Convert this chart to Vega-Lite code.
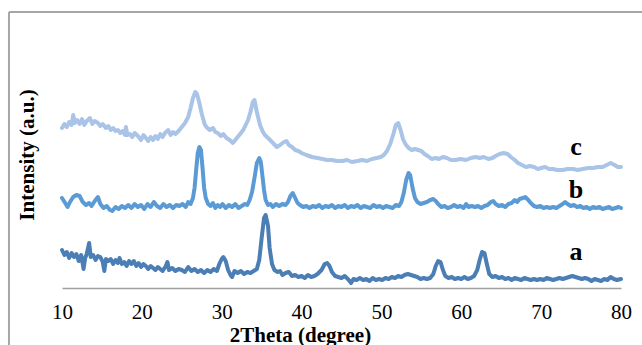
{
  "$schema": "https://vega.github.io/schema/vega-lite/v6.json",
  "width": 559,
  "height": 274,
  "autosize": {"type": "none"},
  "padding": {"left": 62, "top": 14, "right": 21, "bottom": 57},
  "background": "white",
  "config": {"view": {"stroke": null}, "font": "Liberation Serif"},
  "data": {"values": [
{"s":"a","x":10,"y":38},{"s":"a","x":10.3,"y":33},{"s":"a","x":10.6,"y":36},{"s":"a","x":10.9,"y":30},{"s":"a","x":11.2,"y":35},{"s":"a","x":11.5,"y":31},{"s":"a","x":11.8,"y":34},{"s":"a","x":12.1,"y":27},{"s":"a","x":12.4,"y":33},{"s":"a","x":12.7,"y":19},{"s":"a","x":12.9,"y":30},{"s":"a","x":13.1,"y":34},{"s":"a","x":13.4,"y":45},{"s":"a","x":13.6,"y":31},{"s":"a","x":13.9,"y":33},{"s":"a","x":14.2,"y":28},{"s":"a","x":14.5,"y":32},{"s":"a","x":14.8,"y":31},{"s":"a","x":15.1,"y":26},{"s":"a","x":15.3,"y":17},{"s":"a","x":15.5,"y":29},{"s":"a","x":15.8,"y":27},{"s":"a","x":16.1,"y":29},{"s":"a","x":16.4,"y":24},{"s":"a","x":16.7,"y":28},{"s":"a","x":17,"y":25},{"s":"a","x":17.2,"y":30},{"s":"a","x":17.5,"y":24},{"s":"a","x":17.8,"y":26},{"s":"a","x":18.1,"y":22},{"s":"a","x":18.4,"y":27},{"s":"a","x":18.7,"y":24},{"s":"a","x":19,"y":27},{"s":"a","x":19.3,"y":22},{"s":"a","x":19.6,"y":25},{"s":"a","x":19.9,"y":21},{"s":"a","x":20.2,"y":24},{"s":"a","x":20.5,"y":22},{"s":"a","x":20.8,"y":19},{"s":"a","x":21.1,"y":22},{"s":"a","x":21.4,"y":20},{"s":"a","x":21.7,"y":18},{"s":"a","x":22,"y":21},{"s":"a","x":22.3,"y":19},{"s":"a","x":22.6,"y":17},{"s":"a","x":23,"y":22},{"s":"a","x":23.2,"y":26},{"s":"a","x":23.4,"y":18},{"s":"a","x":23.8,"y":20},{"s":"a","x":24.2,"y":17},{"s":"a","x":24.6,"y":19},{"s":"a","x":25,"y":18},{"s":"a","x":25.4,"y":16},{"s":"a","x":25.8,"y":21},{"s":"a","x":26.2,"y":17},{"s":"a","x":26.6,"y":19},{"s":"a","x":27,"y":16},{"s":"a","x":27.4,"y":18},{"s":"a","x":27.8,"y":15},{"s":"a","x":28.2,"y":18},{"s":"a","x":28.6,"y":16},{"s":"a","x":29,"y":19},{"s":"a","x":29.4,"y":17},{"s":"a","x":29.7,"y":24},{"s":"a","x":30,"y":29},{"s":"a","x":30.2,"y":31},{"s":"a","x":30.5,"y":27},{"s":"a","x":30.8,"y":18},{"s":"a","x":31.1,"y":13},{"s":"a","x":31.3,"y":11},{"s":"a","x":31.6,"y":17},{"s":"a","x":32,"y":15},{"s":"a","x":32.4,"y":17},{"s":"a","x":32.8,"y":14},{"s":"a","x":33.2,"y":16},{"s":"a","x":33.6,"y":15},{"s":"a","x":34,"y":17},{"s":"a","x":34.4,"y":19},{"s":"a","x":34.7,"y":28},{"s":"a","x":35,"y":50},{"s":"a","x":35.3,"y":70},{"s":"a","x":35.5,"y":73},{"s":"a","x":35.8,"y":62},{"s":"a","x":36,"y":40},{"s":"a","x":36.3,"y":24},{"s":"a","x":36.6,"y":18},{"s":"a","x":37,"y":16},{"s":"a","x":37.3,"y":17},{"s":"a","x":37.6,"y":13},{"s":"a","x":38,"y":15},{"s":"a","x":38.4,"y":16},{"s":"a","x":38.8,"y":12},{"s":"a","x":39.2,"y":13},{"s":"a","x":39.6,"y":11},{"s":"a","x":40,"y":12},{"s":"a","x":40.4,"y":10},{"s":"a","x":40.8,"y":13},{"s":"a","x":41.2,"y":11},{"s":"a","x":41.6,"y":12},{"s":"a","x":42,"y":14},{"s":"a","x":42.5,"y":18},{"s":"a","x":42.9,"y":24},{"s":"a","x":43.2,"y":25},{"s":"a","x":43.5,"y":22},{"s":"a","x":43.8,"y":16},{"s":"a","x":44.2,"y":12},{"s":"a","x":44.6,"y":11},{"s":"a","x":45,"y":10},{"s":"a","x":45.4,"y":12},{"s":"a","x":45.8,"y":9},{"s":"a","x":46.2,"y":5},{"s":"a","x":46.5,"y":9},{"s":"a","x":46.9,"y":8},{"s":"a","x":47.3,"y":10},{"s":"a","x":47.7,"y":8},{"s":"a","x":48.1,"y":9},{"s":"a","x":48.5,"y":7},{"s":"a","x":48.9,"y":10},{"s":"a","x":49.3,"y":8},{"s":"a","x":49.7,"y":9},{"s":"a","x":50.1,"y":8},{"s":"a","x":50.5,"y":10},{"s":"a","x":50.9,"y":9},{"s":"a","x":51.3,"y":11},{"s":"a","x":51.7,"y":10},{"s":"a","x":52.1,"y":12},{"s":"a","x":52.5,"y":11},{"s":"a","x":52.9,"y":13},{"s":"a","x":53.3,"y":14},{"s":"a","x":53.7,"y":13},{"s":"a","x":54.1,"y":12},{"s":"a","x":54.5,"y":11},{"s":"a","x":54.9,"y":9},{"s":"a","x":55.3,"y":10},{"s":"a","x":55.7,"y":9},{"s":"a","x":56.1,"y":10},{"s":"a","x":56.5,"y":14},{"s":"a","x":56.8,"y":22},{"s":"a","x":57.1,"y":27},{"s":"a","x":57.4,"y":26},{"s":"a","x":57.7,"y":18},{"s":"a","x":58,"y":12},{"s":"a","x":58.4,"y":10},{"s":"a","x":58.8,"y":11},{"s":"a","x":59.2,"y":9},{"s":"a","x":59.6,"y":10},{"s":"a","x":60,"y":9},{"s":"a","x":60.4,"y":11},{"s":"a","x":60.8,"y":9},{"s":"a","x":61.2,"y":10},{"s":"a","x":61.6,"y":12},{"s":"a","x":62,"y":18},{"s":"a","x":62.3,"y":28},{"s":"a","x":62.6,"y":36},{"s":"a","x":62.9,"y":35},{"s":"a","x":63.2,"y":24},{"s":"a","x":63.5,"y":14},{"s":"a","x":63.9,"y":11},{"s":"a","x":64.3,"y":12},{"s":"a","x":64.7,"y":10},{"s":"a","x":65.1,"y":11},{"s":"a","x":65.5,"y":9},{"s":"a","x":65.9,"y":10},{"s":"a","x":66.3,"y":8},{"s":"a","x":66.7,"y":10},{"s":"a","x":67.1,"y":9},{"s":"a","x":67.5,"y":8},{"s":"a","x":67.9,"y":10},{"s":"a","x":68.3,"y":9},{"s":"a","x":68.7,"y":8},{"s":"a","x":69.1,"y":9},{"s":"a","x":69.5,"y":8},{"s":"a","x":69.9,"y":9},{"s":"a","x":70.3,"y":8},{"s":"a","x":70.7,"y":10},{"s":"a","x":71.1,"y":9},{"s":"a","x":71.5,"y":8},{"s":"a","x":71.9,"y":9},{"s":"a","x":72.3,"y":10},{"s":"a","x":72.7,"y":9},{"s":"a","x":73.1,"y":10},{"s":"a","x":73.5,"y":11},{"s":"a","x":73.9,"y":12},{"s":"a","x":74.3,"y":11},{"s":"a","x":74.7,"y":10},{"s":"a","x":75.1,"y":9},{"s":"a","x":75.5,"y":10},{"s":"a","x":75.9,"y":9},{"s":"a","x":76.3,"y":7},{"s":"a","x":76.7,"y":9},{"s":"a","x":77.1,"y":8},{"s":"a","x":77.5,"y":7},{"s":"a","x":77.9,"y":9},{"s":"a","x":78.3,"y":8},{"s":"a","x":78.7,"y":11},{"s":"a","x":79.1,"y":9},{"s":"a","x":79.5,"y":8},{"s":"a","x":80,"y":9},
{"s":"b","x":10,"y":90},{"s":"b","x":10.4,"y":85},{"s":"b","x":10.7,"y":81},{"s":"b","x":11,"y":86},{"s":"b","x":11.4,"y":91},{"s":"b","x":11.8,"y":93},{"s":"b","x":12.2,"y":92},{"s":"b","x":12.6,"y":86},{"s":"b","x":13,"y":83},{"s":"b","x":13.4,"y":85},{"s":"b","x":13.7,"y":82},{"s":"b","x":14.1,"y":87},{"s":"b","x":14.5,"y":91},{"s":"b","x":14.8,"y":84},{"s":"b","x":15.2,"y":80},{"s":"b","x":15.6,"y":82},{"s":"b","x":16,"y":78},{"s":"b","x":16.3,"y":77},{"s":"b","x":16.7,"y":81},{"s":"b","x":17.1,"y":79},{"s":"b","x":17.5,"y":82},{"s":"b","x":17.9,"y":80},{"s":"b","x":18.3,"y":83},{"s":"b","x":18.7,"y":80},{"s":"b","x":19.1,"y":84},{"s":"b","x":19.5,"y":81},{"s":"b","x":19.9,"y":83},{"s":"b","x":20.3,"y":79},{"s":"b","x":20.7,"y":84},{"s":"b","x":21.1,"y":81},{"s":"b","x":21.5,"y":86},{"s":"b","x":21.9,"y":82},{"s":"b","x":22.3,"y":80},{"s":"b","x":22.7,"y":84},{"s":"b","x":23.1,"y":81},{"s":"b","x":23.5,"y":83},{"s":"b","x":23.9,"y":80},{"s":"b","x":24.3,"y":83},{"s":"b","x":24.7,"y":82},{"s":"b","x":25.1,"y":84},{"s":"b","x":25.5,"y":81},{"s":"b","x":25.8,"y":86},{"s":"b","x":26.1,"y":84},{"s":"b","x":26.4,"y":90},{"s":"b","x":26.6,"y":100},{"s":"b","x":26.8,"y":118},{"s":"b","x":27,"y":135},{"s":"b","x":27.2,"y":141},{"s":"b","x":27.4,"y":138},{"s":"b","x":27.6,"y":120},{"s":"b","x":27.8,"y":100},{"s":"b","x":28,"y":90},{"s":"b","x":28.3,"y":84},{"s":"b","x":28.6,"y":82},{"s":"b","x":28.9,"y":85},{"s":"b","x":29.2,"y":80},{"s":"b","x":29.5,"y":83},{"s":"b","x":29.8,"y":81},{"s":"b","x":30.1,"y":84},{"s":"b","x":30.5,"y":80},{"s":"b","x":30.9,"y":83},{"s":"b","x":31.3,"y":81},{"s":"b","x":31.7,"y":84},{"s":"b","x":32.1,"y":80},{"s":"b","x":32.5,"y":82},{"s":"b","x":32.9,"y":84},{"s":"b","x":33.2,"y":83},{"s":"b","x":33.5,"y":88},{"s":"b","x":33.8,"y":96},{"s":"b","x":34.1,"y":110},{"s":"b","x":34.4,"y":125},{"s":"b","x":34.7,"y":130},{"s":"b","x":34.9,"y":126},{"s":"b","x":35.1,"y":112},{"s":"b","x":35.3,"y":98},{"s":"b","x":35.5,"y":88},{"s":"b","x":35.8,"y":83},{"s":"b","x":36.1,"y":84},{"s":"b","x":36.4,"y":81},{"s":"b","x":36.8,"y":84},{"s":"b","x":37.2,"y":82},{"s":"b","x":37.6,"y":84},{"s":"b","x":38,"y":83},{"s":"b","x":38.3,"y":86},{"s":"b","x":38.6,"y":92},{"s":"b","x":38.9,"y":95},{"s":"b","x":39.2,"y":90},{"s":"b","x":39.5,"y":85},{"s":"b","x":39.8,"y":83},{"s":"b","x":40.2,"y":81},{"s":"b","x":40.6,"y":82},{"s":"b","x":41,"y":80},{"s":"b","x":41.4,"y":82},{"s":"b","x":41.8,"y":81},{"s":"b","x":42.2,"y":83},{"s":"b","x":42.6,"y":80},{"s":"b","x":43,"y":82},{"s":"b","x":43.4,"y":81},{"s":"b","x":43.8,"y":83},{"s":"b","x":44.2,"y":80},{"s":"b","x":44.6,"y":82},{"s":"b","x":45,"y":81},{"s":"b","x":45.4,"y":83},{"s":"b","x":45.8,"y":80},{"s":"b","x":46.2,"y":82},{"s":"b","x":46.6,"y":81},{"s":"b","x":47,"y":83},{"s":"b","x":47.4,"y":80},{"s":"b","x":47.8,"y":82},{"s":"b","x":48.2,"y":81},{"s":"b","x":48.6,"y":80},{"s":"b","x":49,"y":83},{"s":"b","x":49.4,"y":81},{"s":"b","x":49.8,"y":82},{"s":"b","x":50.2,"y":80},{"s":"b","x":50.6,"y":82},{"s":"b","x":51,"y":81},{"s":"b","x":51.4,"y":80},{"s":"b","x":51.8,"y":83},{"s":"b","x":52.2,"y":82},{"s":"b","x":52.5,"y":86},{"s":"b","x":52.8,"y":95},{"s":"b","x":53.1,"y":108},{"s":"b","x":53.4,"y":115},{"s":"b","x":53.6,"y":113},{"s":"b","x":53.9,"y":100},{"s":"b","x":54.2,"y":90},{"s":"b","x":54.5,"y":86},{"s":"b","x":54.9,"y":84},{"s":"b","x":55.3,"y":85},{"s":"b","x":55.7,"y":86},{"s":"b","x":56.1,"y":88},{"s":"b","x":56.5,"y":89},{"s":"b","x":56.8,"y":87},{"s":"b","x":57.1,"y":84},{"s":"b","x":57.5,"y":81},{"s":"b","x":57.9,"y":82},{"s":"b","x":58.3,"y":80},{"s":"b","x":58.7,"y":81},{"s":"b","x":59.1,"y":83},{"s":"b","x":59.5,"y":81},{"s":"b","x":59.9,"y":82},{"s":"b","x":60.3,"y":80},{"s":"b","x":60.6,"y":84},{"s":"b","x":60.9,"y":81},{"s":"b","x":61.3,"y":82},{"s":"b","x":61.7,"y":81},{"s":"b","x":62.1,"y":82},{"s":"b","x":62.5,"y":80},{"s":"b","x":62.9,"y":82},{"s":"b","x":63.3,"y":83},{"s":"b","x":63.7,"y":86},{"s":"b","x":64,"y":87},{"s":"b","x":64.3,"y":84},{"s":"b","x":64.7,"y":82},{"s":"b","x":65.1,"y":83},{"s":"b","x":65.5,"y":81},{"s":"b","x":65.9,"y":84},{"s":"b","x":66.3,"y":85},{"s":"b","x":66.7,"y":88},{"s":"b","x":67,"y":86},{"s":"b","x":67.3,"y":89},{"s":"b","x":67.7,"y":90},{"s":"b","x":68,"y":91},{"s":"b","x":68.4,"y":88},{"s":"b","x":68.7,"y":85},{"s":"b","x":69.1,"y":82},{"s":"b","x":69.5,"y":81},{"s":"b","x":69.9,"y":82},{"s":"b","x":70.3,"y":80},{"s":"b","x":70.7,"y":81},{"s":"b","x":71.1,"y":80},{"s":"b","x":71.5,"y":81},{"s":"b","x":71.9,"y":80},{"s":"b","x":72.3,"y":82},{"s":"b","x":72.7,"y":84},{"s":"b","x":73,"y":86},{"s":"b","x":73.3,"y":84},{"s":"b","x":73.7,"y":82},{"s":"b","x":74.1,"y":83},{"s":"b","x":74.5,"y":81},{"s":"b","x":74.9,"y":82},{"s":"b","x":75.3,"y":80},{"s":"b","x":75.7,"y":81},{"s":"b","x":76.1,"y":79},{"s":"b","x":76.5,"y":81},{"s":"b","x":76.9,"y":80},{"s":"b","x":77.3,"y":81},{"s":"b","x":77.7,"y":79},{"s":"b","x":78.1,"y":80},{"s":"b","x":78.5,"y":81},{"s":"b","x":78.9,"y":79},{"s":"b","x":79.3,"y":80},{"s":"b","x":79.7,"y":81},{"s":"b","x":80,"y":80},
{"s":"c","x":10,"y":160},{"s":"c","x":10.3,"y":164},{"s":"c","x":10.6,"y":161},{"s":"c","x":10.9,"y":166},{"s":"c","x":11.2,"y":163},{"s":"c","x":11.4,"y":173},{"s":"c","x":11.6,"y":165},{"s":"c","x":11.9,"y":168},{"s":"c","x":12.2,"y":164},{"s":"c","x":12.5,"y":169},{"s":"c","x":12.8,"y":163},{"s":"c","x":13.1,"y":167},{"s":"c","x":13.5,"y":170},{"s":"c","x":13.8,"y":164},{"s":"c","x":14.1,"y":167},{"s":"c","x":14.5,"y":165},{"s":"c","x":14.8,"y":162},{"s":"c","x":15.1,"y":164},{"s":"c","x":15.5,"y":160},{"s":"c","x":15.8,"y":162},{"s":"c","x":16.1,"y":158},{"s":"c","x":16.4,"y":160},{"s":"c","x":16.7,"y":157},{"s":"c","x":17,"y":158},{"s":"c","x":17.3,"y":155},{"s":"c","x":17.6,"y":157},{"s":"c","x":17.9,"y":153},{"s":"c","x":18,"y":161},{"s":"c","x":18.2,"y":153},{"s":"c","x":18.5,"y":154},{"s":"c","x":18.8,"y":151},{"s":"c","x":19.1,"y":155},{"s":"c","x":19.5,"y":152},{"s":"c","x":19.9,"y":148},{"s":"c","x":20.2,"y":153},{"s":"c","x":20.5,"y":150},{"s":"c","x":20.8,"y":147},{"s":"c","x":21.1,"y":151},{"s":"c","x":21.4,"y":148},{"s":"c","x":21.7,"y":152},{"s":"c","x":22,"y":149},{"s":"c","x":22.3,"y":154},{"s":"c","x":22.6,"y":151},{"s":"c","x":22.9,"y":155},{"s":"c","x":23.3,"y":158},{"s":"c","x":23.6,"y":153},{"s":"c","x":23.9,"y":156},{"s":"c","x":24.2,"y":154},{"s":"c","x":24.6,"y":157},{"s":"c","x":25,"y":161},{"s":"c","x":25.4,"y":165},{"s":"c","x":25.8,"y":171},{"s":"c","x":26.1,"y":180},{"s":"c","x":26.4,"y":190},{"s":"c","x":26.7,"y":196},{"s":"c","x":26.9,"y":194},{"s":"c","x":27.2,"y":185},{"s":"c","x":27.5,"y":174},{"s":"c","x":27.9,"y":163},{"s":"c","x":28.2,"y":160},{"s":"c","x":28.5,"y":158},{"s":"c","x":28.9,"y":160},{"s":"c","x":29.2,"y":156},{"s":"c","x":29.5,"y":155},{"s":"c","x":29.9,"y":152},{"s":"c","x":30.2,"y":154},{"s":"c","x":30.6,"y":150},{"s":"c","x":31,"y":148},{"s":"c","x":31.4,"y":145},{"s":"c","x":31.7,"y":148},{"s":"c","x":32,"y":151},{"s":"c","x":32.4,"y":155},{"s":"c","x":32.7,"y":158},{"s":"c","x":33,"y":163},{"s":"c","x":33.3,"y":168},{"s":"c","x":33.6,"y":176},{"s":"c","x":33.9,"y":186},{"s":"c","x":34.1,"y":188},{"s":"c","x":34.4,"y":176},{"s":"c","x":34.8,"y":163},{"s":"c","x":35.1,"y":157},{"s":"c","x":35.4,"y":153},{"s":"c","x":35.8,"y":150},{"s":"c","x":36.3,"y":146},{"s":"c","x":36.9,"y":141},{"s":"c","x":37.3,"y":143},{"s":"c","x":37.8,"y":146},{"s":"c","x":38.1,"y":147},{"s":"c","x":38.4,"y":143},{"s":"c","x":38.8,"y":141},{"s":"c","x":39.2,"y":138},{"s":"c","x":39.6,"y":137},{"s":"c","x":40,"y":135},{"s":"c","x":40.6,"y":133},{"s":"c","x":41.3,"y":131},{"s":"c","x":42,"y":130},{"s":"c","x":42.6,"y":129},{"s":"c","x":43.2,"y":128},{"s":"c","x":43.8,"y":128},{"s":"c","x":44.4,"y":127},{"s":"c","x":45.1,"y":127},{"s":"c","x":45.7,"y":128},{"s":"c","x":46.3,"y":126},{"s":"c","x":47,"y":127},{"s":"c","x":47.6,"y":128},{"s":"c","x":48.2,"y":127},{"s":"c","x":48.8,"y":129},{"s":"c","x":49.4,"y":130},{"s":"c","x":49.9,"y":131},{"s":"c","x":50.3,"y":133},{"s":"c","x":50.7,"y":137},{"s":"c","x":51.1,"y":144},{"s":"c","x":51.5,"y":154},{"s":"c","x":51.8,"y":163},{"s":"c","x":52.1,"y":165},{"s":"c","x":52.4,"y":158},{"s":"c","x":52.7,"y":149},{"s":"c","x":53,"y":144},{"s":"c","x":53.4,"y":140},{"s":"c","x":53.8,"y":138},{"s":"c","x":54.2,"y":139},{"s":"c","x":54.6,"y":138},{"s":"c","x":55,"y":137},{"s":"c","x":55.4,"y":134},{"s":"c","x":55.8,"y":132},{"s":"c","x":56.3,"y":129},{"s":"c","x":56.8,"y":130},{"s":"c","x":57.2,"y":129},{"s":"c","x":57.7,"y":131},{"s":"c","x":58.2,"y":130},{"s":"c","x":58.7,"y":128},{"s":"c","x":59.3,"y":128},{"s":"c","x":59.9,"y":129},{"s":"c","x":60.6,"y":128},{"s":"c","x":61.2,"y":130},{"s":"c","x":61.8,"y":131},{"s":"c","x":62.3,"y":130},{"s":"c","x":62.8,"y":131},{"s":"c","x":63.4,"y":129},{"s":"c","x":63.9,"y":130},{"s":"c","x":64.3,"y":132},{"s":"c","x":64.8,"y":134},{"s":"c","x":65.3,"y":135},{"s":"c","x":65.8,"y":134},{"s":"c","x":66.2,"y":131},{"s":"c","x":66.7,"y":128},{"s":"c","x":67.1,"y":125},{"s":"c","x":67.6,"y":123},{"s":"c","x":68.1,"y":121},{"s":"c","x":68.6,"y":122},{"s":"c","x":69.1,"y":121},{"s":"c","x":69.6,"y":119},{"s":"c","x":70,"y":120},{"s":"c","x":70.5,"y":121},{"s":"c","x":71,"y":119},{"s":"c","x":71.5,"y":119},{"s":"c","x":72,"y":118},{"s":"c","x":72.7,"y":118},{"s":"c","x":73.3,"y":119},{"s":"c","x":74,"y":119},{"s":"c","x":74.6,"y":118},{"s":"c","x":75.2,"y":119},{"s":"c","x":75.9,"y":120},{"s":"c","x":76.5,"y":120},{"s":"c","x":77.1,"y":121},{"s":"c","x":77.7,"y":121},{"s":"c","x":78.2,"y":123},{"s":"c","x":78.7,"y":125},{"s":"c","x":79.2,"y":123},{"s":"c","x":79.6,"y":121},{"s":"c","x":80,"y":121}
  ]},
  "layer": [
    {
      "data": {"values": [{}]},
      "mark": {"type": "rule", "color": "#a6a6a6", "strokeWidth": 2},
      "encoding": {
        "x": {"datum": 3.36, "type": "quantitative"},
        "y": {"datum": -80, "type": "quantitative"},
        "y2": {"datum": 276}
      }
    },
    {
      "data": {"values": [{}]},
      "mark": {"type": "rule", "color": "#a6a6a6", "strokeWidth": 2},
      "encoding": {
        "x": {"datum": 3.36, "type": "quantitative"},
        "x2": {"datum": 95},
        "y": {"datum": 276, "type": "quantitative"}
      }
    },
    {
      "mark": {"type": "line", "strokeWidth": 4, "strokeJoin": "round", "strokeCap": "round"},
      "encoding": {
        "x": {
          "field": "x", "type": "quantitative",
          "scale": {"domain": [10, 80], "nice": false, "zero": false},
          "axis": {
            "values": [10, 20, 30, 40, 50, 60, 70, 80],
            "grid": false, "ticks": false, "tickSize": 0,
            "domainColor": "#a0a0a0", "domainWidth": 1.5,
            "labelFont": "Liberation Serif", "labelFontSize": 21, "labelColor": "#000000",
            "labelBaseline": "alphabetic", "labelPadding": 30, "labelFlush": false,
            "title": "2Theta (degree)", "titleFont": "Liberation Serif", "titleFontSize": 21,
            "titleFontWeight": "bold", "titleColor": "#000000",
            "titleX": 238, "titleY": 53, "titleBaseline": "alphabetic", "titleAnchor": null, "titleAlign": "center"
          }
        },
        "y": {
          "field": "y", "type": "quantitative",
          "scale": {"domain": [0, 274], "nice": false},
          "axis": {
            "labels": false, "ticks": false, "domain": false, "grid": false,
            "title": "Intensity (a.u.)", "titleFont": "Liberation Serif", "titleFontSize": 21,
            "titleFontWeight": "bold", "titleColor": "#000000", "titleAngle": -90,
            "titleX": -29, "titleY": 140.5, "titleBaseline": "alphabetic", "titleAlign": "center"
          }
        },
        "color": {
          "field": "s", "type": "nominal",
          "scale": {"domain": ["a", "b", "c"], "range": ["#4a7eb5", "#5a9bd5", "#a9c4e6"]},
          "legend": null
        }
      }
    },
    {
      "data": {"values": [{"x": 74.36, "y": 133, "t": "c"}, {"x": 74.36, "y": 90, "t": "b"}, {"x": 74.36, "y": 28, "t": "a"}]},
      "mark": {"type": "text", "font": "Liberation Serif", "fontSize": 26, "fontWeight": "bold", "color": "#000000", "align": "center", "baseline": "alphabetic"},
      "encoding": {
        "x": {"field": "x", "type": "quantitative"},
        "y": {"field": "y", "type": "quantitative"},
        "text": {"field": "t"}
      }
    }
  ]
}
